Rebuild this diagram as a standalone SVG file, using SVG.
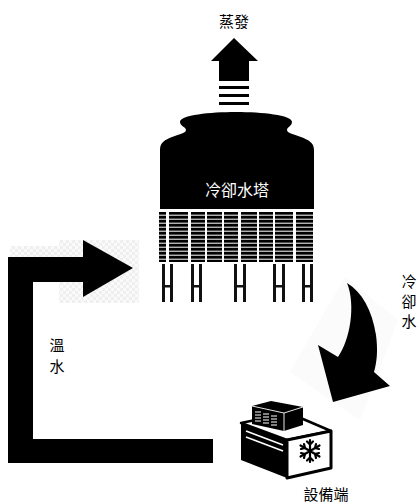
<svg xmlns="http://www.w3.org/2000/svg" width="418" height="503" viewBox="0 0 418 503">
  <defs>
    <style>
      .lbl { font-family: "Noto Sans CJK TC", "Noto Sans CJK SC", sans-serif; font-size: 15px; fill: #000; }
      .lblw { font-family: "Noto Sans CJK TC", "Noto Sans CJK SC", sans-serif; font-size: 16px; fill: #fff; }
      .ink { fill: #000; }
      .leg { fill: #111; }
    </style>
    <!-- horizontal slats of the fill pack -->
    <pattern id="slats" x="0" y="212" width="8" height="4" patternUnits="userSpaceOnUse">
      <rect x="0" y="0" width="8" height="4" fill="#000"/>
      <rect x="0" y="2.6" width="8" height="1.3" fill="#c4c4c4"/>
    </pattern>
    <!-- faint checker behind the return arrow -->
    <pattern id="checker" x="0" y="0" width="6" height="6" patternUnits="userSpaceOnUse">
      <rect width="6" height="6" fill="#fafafa"/>
      <rect width="3" height="3" fill="#efefef"/>
      <rect x="3" y="3" width="3" height="3" fill="#efefef"/>
    </pattern>
  </defs>

  <rect width="418" height="503" fill="#fff"/>

  <!-- connectors -->
  <g id="connectors">
    <!-- evaporation arrow -->
    <g id="evaporation-arrow">
      <polygon class="ink" points="234,38 258,61 249,61 249,81 219,81 219,61 211,61"/>
      <rect class="ink" x="219" y="86" width="30" height="3"/>
      <rect class="ink" x="219" y="94" width="30" height="3"/>
      <rect class="ink" x="219" y="102" width="30" height="3"/>
    </g>
    <!-- warm water return -->
    <g id="warm-water-arrow">
      <rect x="59" y="240" width="80" height="63" fill="url(#checker)"/>
      <rect x="10" y="246" width="49" height="11" fill="url(#checker)"/>
      <path class="ink" d="M8,257 L83,257 L83,282 L33,282 L33,439 L213,439 L213,463 L8,463 Z"/>
      <polygon class="ink" points="83,240 133,268 83,297"/>
    </g>
    <!-- cooling water supply -->
    <g id="cooling-water-arrow">
      <polygon points="345,277 398,320 360,420 290,372" fill="#fbfbfb"/>
      <path class="ink" d="M347,283 C362,292 372,310 376,335 C378,350 377,362 374,372 L390,386 L333,402 L318,345 L338,357 C350,340 356,305 347,283 Z"/>
    </g>
  </g>

  <!-- cooling tower -->
  <g id="cooling-tower">
    <path class="ink" d="M160,209 L160,150 C160,142 165,140 172,137 C180,134 186,133 186,130 C186,127 180,126 180,122 C180,115 210,112 236,112 C262,112 292,115 292,122 C292,126 287,127 287,130 C287,133 293,134 301,137 C308,140 314,142 314,150 L314,209 Z"/>
    <text class="lblw" x="237" y="196" text-anchor="middle">冷卻水塔</text>
    <g id="fill-pack" fill="url(#slats)">
      <rect x="159" y="212" width="7" height="50"/>
      <rect x="169" y="212" width="19" height="50"/>
      <rect x="191" y="212" width="14" height="50"/>
      <rect x="207" y="212" width="15" height="50"/>
      <rect x="224" y="212" width="14" height="50"/>
      <rect x="241" y="212" width="16" height="50"/>
      <rect x="259" y="212" width="14" height="50"/>
      <rect x="275" y="212" width="18" height="50"/>
      <rect x="296" y="212" width="17" height="50"/>
    </g>
    <g id="legs" class="leg">
      <path d="M162,264h3v38h-3zM170,264h3v38h-3zM165,285h5v2.5h-5z"/>
      <path d="M191,264h3v38h-3zM199,264h3v38h-3zM194,285h5v2.5h-5z"/>
      <path d="M234,264h3v38h-3zM243,264h3v38h-3zM237,285h6v2.5h-6z"/>
      <path d="M273,264h3v38h-3zM282,264h3v38h-3zM276,285h6v2.5h-6z"/>
      <path d="M302,264h3v38h-3zM310,264h3v38h-3zM305,285h5v2.5h-5z"/>
    </g>
  </g>

  <!-- equipment (chiller unit) -->
  <g id="equipment">
    <polygon points="241,423 287,440 331,431 289,413" fill="#fff" stroke="#000" stroke-width="2.5" stroke-linejoin="round"/>
    <polygon class="ink" points="241,423 287,440 287,478 241,460"/>
    <line x1="246" y1="431" x2="283" y2="445" stroke="#fff" stroke-width="1.6"/>
    <line x1="246" y1="437" x2="283" y2="451" stroke="#fff" stroke-width="1.6"/>
    <polygon points="287,440 331,431 331,468 287,478" fill="#fff" stroke="#000" stroke-width="3" stroke-linejoin="round"/>
    <!-- condenser unit on top -->
    <polygon class="ink" points="252,406 271,401 303,407 303,425 284,431 252,424"/>
    <polyline points="252,406 284,413 303,407" fill="none" stroke="#fff" stroke-width="0.9"/>
    <line x1="284" y1="413" x2="284" y2="431" stroke="#fff" stroke-width="0.9"/>
    <g stroke="#fff" stroke-width="1.1">
      <path d="M255,412h6M255,415h6M255,418h6M255,421h6"/>
      <path d="M263,414h6M263,417h6M263,420h6M263,423h6"/>
      <path d="M271,416h6M271,419h6M271,422h6M271,425h6"/>
    </g>
    <!-- snowflake -->
    <g stroke="#000" stroke-width="2.2" stroke-linecap="round" fill="none">
      <path d="M310,440v22M300.5,445.5l19,11M300.5,456.5l19,-11"/>
      <path d="M307,441.5l3,3l3,-3M307,460.5l3,-3l3,3"/>
      <path d="M301,449l4,-1l-1,-4M319,453l-4,1l1,4"/>
      <path d="M301,453l4,1l-1,4M319,449l-4,-1l1,-4"/>
    </g>
  </g>

  <!-- labels -->
  <text class="lbl" x="234" y="27" text-anchor="middle">蒸發</text>
  <text class="lbl" x="57" y="351" text-anchor="middle">溫</text>
  <text class="lbl" x="57" y="372" text-anchor="middle">水</text>
  <text class="lbl" x="409" y="287" text-anchor="middle">冷</text>
  <text class="lbl" x="409" y="307" text-anchor="middle">卻</text>
  <text class="lbl" x="409" y="327" text-anchor="middle">水</text>
  <text class="lbl" x="326" y="500" text-anchor="middle">設備端</text>
</svg>
